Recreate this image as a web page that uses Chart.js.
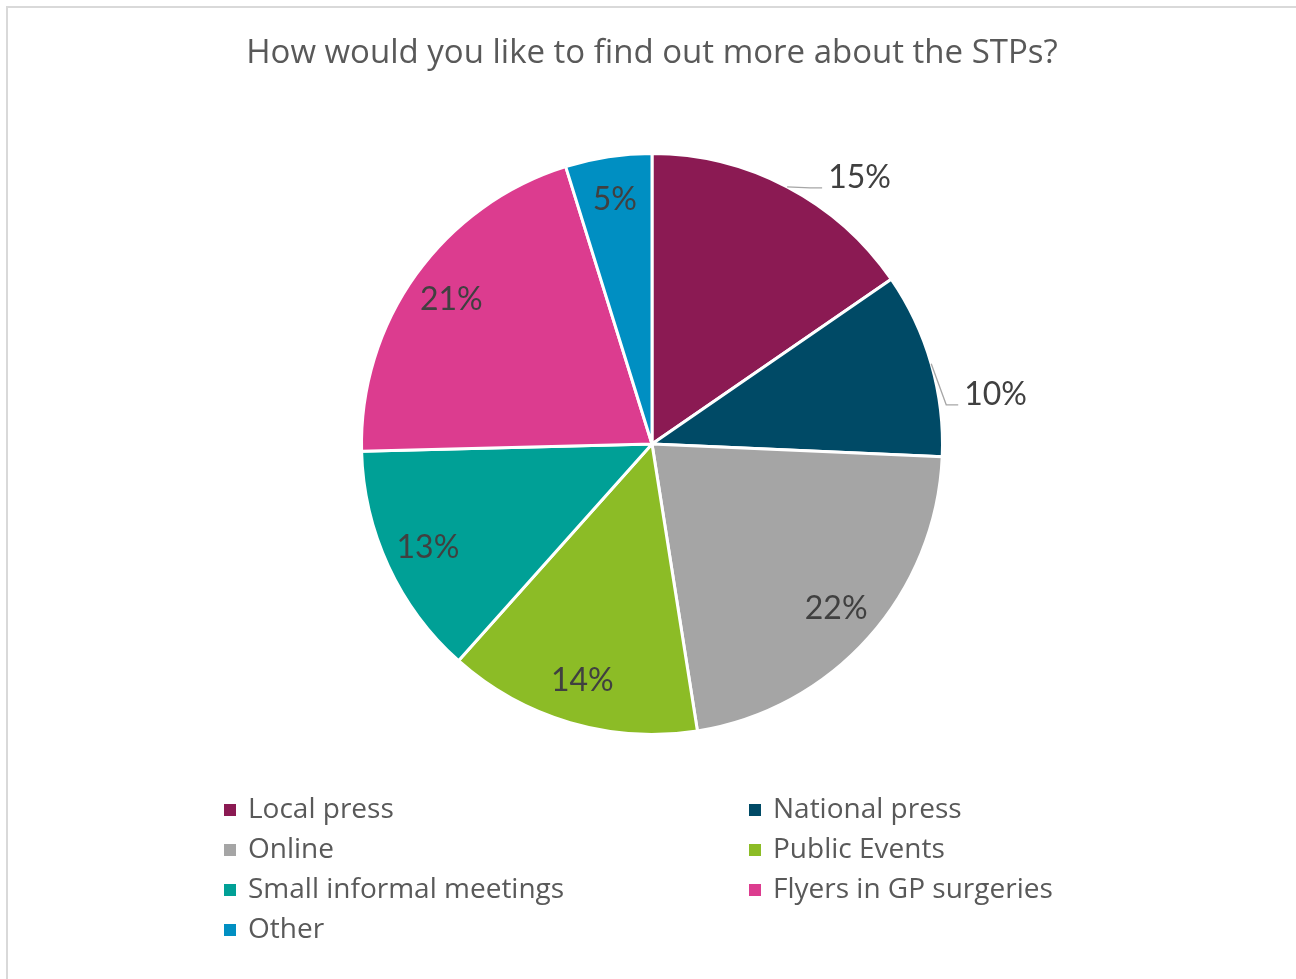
<!DOCTYPE html>
<html>
<head>
<meta charset="utf-8">
<script src="https://cdn.jsdelivr.net/npm/chart.js@4/dist/chart.umd.min.js"></script>
<style>
  html, body { margin: 0; padding: 0; background: #fff; overflow: hidden; }
  #frame {
    position: absolute; left: 6px; top: 6px; width: 1400px; height: 1100px;
    border: 2px solid #d9d9d9; box-sizing: border-box;
  }
  #wrap { position: absolute; left: 0; top: 0; width: 1296px; height: 979px; }
  #title {
    position: absolute; left: 0; top: 28px; width: 1304px; text-align: center;
    font-family: "Open Sans", sans-serif; font-size: 33px; color: #595959;
  }
  #legend {
    position: absolute; left: 224px; top: 787px; width: 900px;
    display: grid; grid-template-columns: 525px 375px;
    font-family: "Open Sans", sans-serif; font-size: 28px; color: #595959;
  }
  #legend div { height: 40px; line-height: 40px; white-space: nowrap; }
  #legend span.box {
    display: inline-block; width: 12px; height: 12px; margin-right: 12px;
    vertical-align: 2px;
  }
</style>
</head>
<body>
<div id="frame"></div>
<div id="wrap">
  <canvas id="chart" width="1296" height="979"></canvas>
  <div id="title">How would you like to find out more about the STPs?</div>
  <div id="legend"></div>
</div>
<script>
const categories = ['Local press', 'National press', 'Online', 'Public Events', 'Small informal meetings', 'Flyers in GP surgeries', 'Other'];
const shares = [15.4, 10.3, 21.8, 14.1, 13.0, 20.6, 4.8];
const sliceColors = ['#8b1a53', '#004a66', '#a5a5a5', '#8cbc26', '#00a096', '#dc3c8f', '#008fc2'];

// which labels sit outside the pie with a leader line
const outsideLabels = { 0: { dx: 41, dy: -9 }, 1: { dx: 33, dy: 31 } };

const legendEl = document.getElementById('legend');
categories.forEach((name, i) => {
  const row = document.createElement('div');
  row.innerHTML = '<span class="box" style="background:' + sliceColors[i] + '"></span>' + name;
  legendEl.appendChild(row);
});

const pieLabels = {
  id: 'pieLabels',
  afterDatasetsDraw(chart) {
    const ctx = chart.ctx;
    const arcs = chart.getDatasetMeta(0).data;
    ctx.save();
    ctx.font = '32px Lato, sans-serif';
    ctx.fillStyle = '#404040';
    ctx.textBaseline = 'middle';
    arcs.forEach((arc, i) => {
      const p = arc.getProps(['x', 'y', 'startAngle', 'endAngle', 'outerRadius']);
      const mid = (p.startAngle + p.endAngle) / 2;
      const text = Math.round(shares[i]) + '%';
      const out = outsideLabels[i];
      if (out) {
        const ax = p.x + Math.cos(mid) * p.outerRadius;
        const ay = p.y + Math.sin(mid) * p.outerRadius;
        const tx = ax + out.dx;
        const ty = ay + out.dy;
        ctx.strokeStyle = '#a6a6a6';
        ctx.lineWidth = 1.3;
        ctx.beginPath();
        ctx.moveTo(ax, ay);
        ctx.lineTo(tx - 18, ty + 10);
        ctx.lineTo(tx - 6, ty + 10);
        ctx.stroke();
        ctx.textAlign = 'left';
        ctx.fillText(text, tx, ty);
      } else {
        const r = p.outerRadius * 0.85;
        ctx.textAlign = 'center';
        ctx.fillText(text, p.x + Math.cos(mid) * r, p.y + Math.sin(mid) * r);
      }
    });
    ctx.restore();
  }
};

new Chart(document.getElementById('chart').getContext('2d'), {
  type: 'pie',
  data: {
    labels: categories,
    datasets: [{
      data: shares,
      backgroundColor: sliceColors,
      borderColor: '#ffffff',
      borderWidth: 3,
    }],
  },
  options: {
    responsive: false,
    animation: false,
    layout: { padding: { left: 360, top: 152, right: 352, bottom: 243 } },
    plugins: {
      legend: { display: false },
      tooltip: { enabled: false },
    },
  },
  plugins: [pieLabels],
});
</script>
</body>
</html>
